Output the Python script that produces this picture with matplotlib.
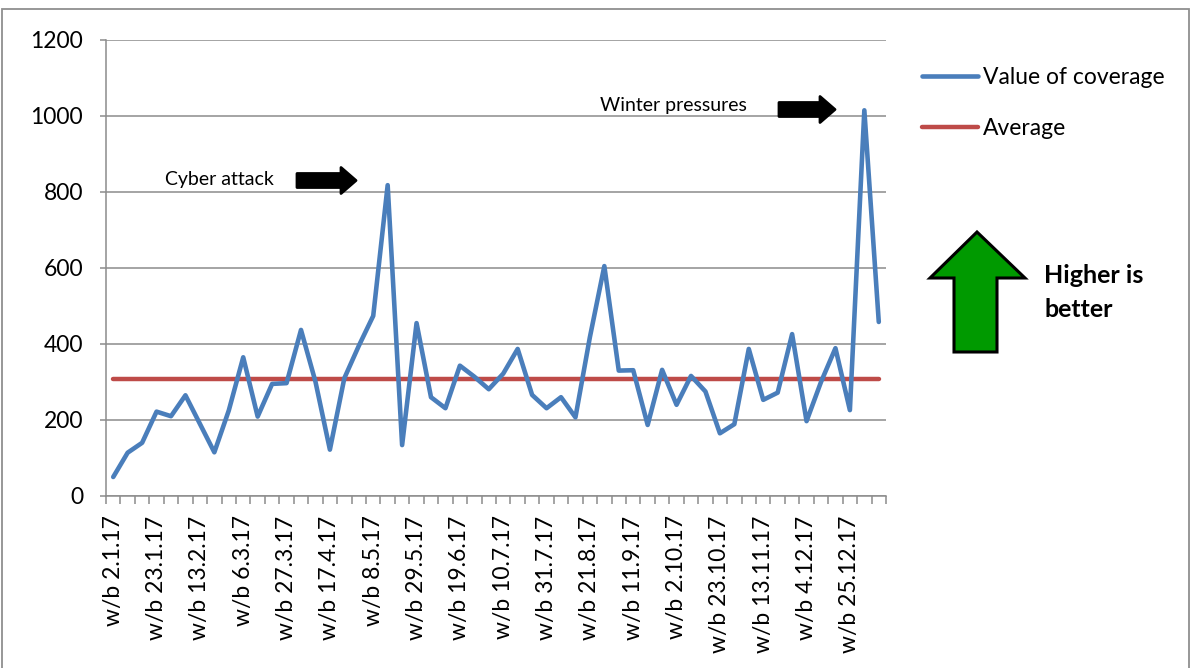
import numpy as np
import matplotlib
matplotlib.use("Agg")
import matplotlib.pyplot as plt
from matplotlib.patches import Polygon, Rectangle

plt.rcParams['font.family'] = ['Lato', 'DejaVu Sans']

# Weekly value of coverage, w/b 2.1.17 through w/b 8.1.18
week_labels = [
    "w/b 2.1.17", "w/b 23.1.17", "w/b 13.2.17", "w/b 6.3.17", "w/b 27.3.17",
    "w/b 17.4.17", "w/b 8.5.17", "w/b 29.5.17", "w/b 19.6.17", "w/b 10.7.17",
    "w/b 31.7.17", "w/b 21.8.17", "w/b 11.9.17", "w/b 2.10.17", "w/b 23.10.17",
    "w/b 13.11.17", "w/b 4.12.17", "w/b 25.12.17",
]
coverage = [
    50, 114, 140, 222, 210, 265, 190, 115, 225, 365,
    209, 295, 297, 437, 301, 122, 310, 395, 474, 818,
    134, 455, 260, 231, 343, 314, 281, 322, 387, 266,
    231, 260, 207, 418, 605, 330, 331, 187, 332, 240,
    316, 275, 165, 189, 387, 253, 272, 426, 197, 300,
    389, 226, 1015, 458,
]
average = float(np.mean(coverage))

W, H = 1192, 668
fig = plt.figure(figsize=(W / 100, H / 100), dpi=100)


def fx(px):
    return px / W


def fy(py):
    return 1 - py / H


ax = fig.add_axes([fx(106), fy(496), fx(886) - fx(106), fy(40) - fy(496)])

x = np.arange(len(coverage))
blue = "#4A7EBB"
red = "#BE4B48"
grey = "#8C8C8C"

ax.plot(x, coverage, color=blue, lw=3.3, solid_joinstyle='round',
        solid_capstyle='round', label="Value of coverage", zorder=3)
ax.plot(x, [average] * len(x), color=red, lw=3.2, solid_capstyle='round',
        label="Average", zorder=2)

ax.set_xlim(-0.5, len(coverage) - 0.5)
ax.set_ylim(0, 1200)
ax.set_yticks(np.arange(0, 1201, 200))
ax.yaxis.grid(True, color=grey, lw=1.1)
ax.set_axisbelow(True)

ax.set_xticks(np.arange(0, len(coverage), 3)[:len(week_labels)])
ax.set_xticklabels(week_labels, rotation=90)
ax.set_xticks(np.arange(-0.5, len(coverage)), minor=True)
ax.tick_params(axis='x', which='major', length=0, pad=14, labelsize=16.5)
ax.tick_params(axis='x', which='minor', length=5.5, width=1.1, color=grey)
ax.tick_params(axis='y', length=4.5, width=1.1, color=grey, pad=12,
               labelsize=16.5)

for side in ('top', 'right'):
    ax.spines[side].set_visible(False)
for side in ('left', 'bottom'):
    ax.spines[side].set_color(grey)
    ax.spines[side].set_linewidth(1.1)

ax.legend(loc='upper left', bbox_to_anchor=(fx(922), fy(67)),
          bbox_transform=fig.transFigure, frameon=False, fontsize=16.5,
          handlelength=2.45, handletextpad=0.2, labelspacing=1.33,
          borderaxespad=0, borderpad=0)


def block_arrow(x0, x1, yc, body_h, head_h, head_len, face, edge, lw):
    pts = [
        (x0, yc - body_h / 2), (x1 - head_len, yc - body_h / 2),
        (x1 - head_len, yc - head_h / 2), (x1, yc),
        (x1 - head_len, yc + head_h / 2), (x1 - head_len, yc + body_h / 2),
        (x0, yc + body_h / 2),
    ]
    pts = [(fx(px), fy(py)) for px, py in pts]
    fig.add_artist(Polygon(pts, closed=True, transform=fig.transFigure,
                           facecolor=face, edgecolor=edge, lw=lw,
                           joinstyle='round'))


fig.text(fx(165), fy(180), "Cyber attack", fontsize=14, va='center',
         ha='left')
block_arrow(297, 356, 180.5, 14, 26, 15, 'black', 'black', 2)
fig.text(fx(600), fy(106), "Winter pressures", fontsize=14, va='center',
         ha='left')
block_arrow(779, 835, 109.5, 14, 26, 15, 'black', 'black', 2)

# green "higher is better" arrow
up = [(954, 352), (954, 278), (930, 278), (977, 232), (1025, 278),
      (997, 278), (997, 352)]
fig.add_artist(Polygon([(fx(a), fy(b)) for a, b in up], closed=True,
                       transform=fig.transFigure, facecolor="#009A00",
                       edgecolor='black', lw=2.2, joinstyle='miter'))
fig.text(fx(1044), fy(283), "Higher is", fontsize=18, fontweight='bold',
         va='baseline', ha='left')
fig.text(fx(1044), fy(317), "better", fontsize=18, fontweight='bold',
         va='baseline', ha='left')

fig.add_artist(Rectangle((fx(2), fy(680)), fx(1189) - fx(2),
                         fy(9) - fy(680), transform=fig.transFigure,
                         fill=False, edgecolor="#8F8F8F", lw=1.3))

fig.savefig("out.png", dpi=100)
